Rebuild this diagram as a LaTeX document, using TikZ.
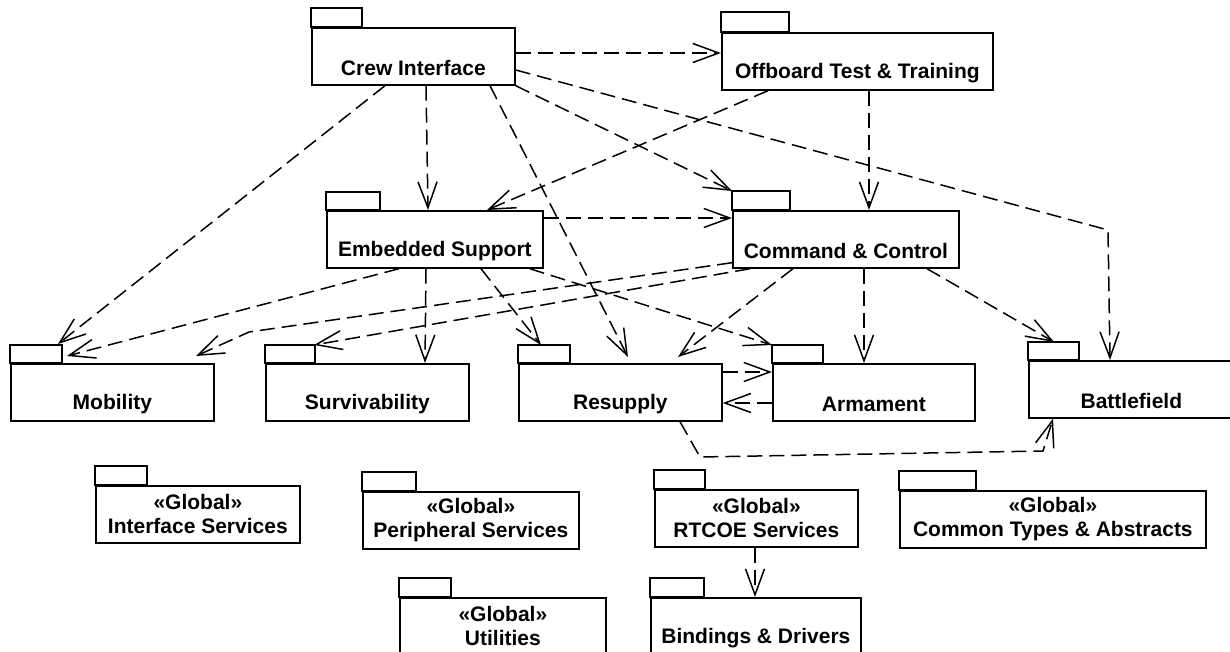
\documentclass[tikz,border=0pt]{standalone}
\usepackage{fontspec}
\setmainfont{Liberation Sans}
\usetikzlibrary{arrows.meta,calc}
\tikzset{
  pkg/.style={draw, line width=1.7pt, anchor=north west, minimum height=57pt,
    inner sep=0pt, align=center, font=\bfseries\fontsize{21}{24}\selectfont},
  tabbox/.style={draw, line width=1.7pt},
  dep/.style={draw, line width=1.5pt, dash pattern=on 15pt off 7pt,
    -{Straight Barb[length=26pt,width=19pt,line width=1.5pt]}}
}
\newcommand{\nost}{\phantom{«Global»}}
\begin{document}
\begin{tikzpicture}[x=1pt,y=-1pt]
\useasboundingbox (0,0) rectangle (1230,652);
% packages
\node[pkg, minimum width=203pt] (crew) at (311,27) {\nost\\Crew Interface};
\node[pkg, minimum width=271pt] (off) at (721,32) {\nost\\Offboard Test \& Training};
\node[pkg, minimum width=216pt] (emb) at (326,210) {\nost\\Embedded Support};
\node[pkg, minimum width=226pt] (cc) at (732,210) {\nost\\Command \& Control};
\node[pkg, minimum width=203pt] (mob) at (10,363) {\nost\\Mobility};
\node[pkg, minimum width=203pt] (surv) at (265,363) {\nost\\Survivability};
\node[pkg, minimum width=203pt] (res) at (518,363) {\nost\\Resupply};
\node[pkg, minimum width=202pt] (arm) at (772,363) {\nost\\Armament};
\node[pkg, minimum width=205pt] (bf) at (1028,360) {\nost\\Battlefield};
\node[pkg, minimum width=204pt] (ifs) at (95,485) {«Global»\\Interface Services};
\node[pkg, minimum width=216pt] (per) at (362,491) {«Global»\\Peripheral Services};
\node[pkg, minimum width=203pt] (rt) at (654,489) {«Global»\\RTCOE Services};
\node[pkg, minimum width=306pt] (com) at (899,490) {«Global»\\Common Types \& Abstracts};
\node[pkg, minimum width=206pt] (util) at (399,597) {«Global»\\Utilities};
\node[pkg, minimum width=210pt] (bind) at (650,597) {\nost\\Bindings \& Drivers};
% tabs
\draw[tabbox] (crew.north west) rectangle ++(51,-19);
\draw[tabbox] (off.north west) rectangle ++(68,-20);
\draw[tabbox] (emb.north west) rectangle ++(54,-18);
\draw[tabbox] (cc.north west) rectangle ++(58,-19);
\draw[tabbox] (mob.north west) rectangle ++(52,-18);
\draw[tabbox] (surv.north west) rectangle ++(50,-18);
\draw[tabbox] (res.north west) rectangle ++(52,-18);
\draw[tabbox] (arm.north west) rectangle ++(51,-18);
\draw[tabbox] (bf.north west) rectangle ++(51,-18);
\draw[tabbox] (ifs.north west) rectangle ++(52,-19);
\draw[tabbox] (per.north west) rectangle ++(54,-19);
\draw[tabbox] (rt.north west) rectangle ++(51,-19);
\draw[tabbox] (com.north west) rectangle ++(77,-19);
\draw[tabbox] (util.north west) rectangle ++(52,-19);
\draw[tabbox] (bind.north west) rectangle ++(54,-19);
% bend points
\coordinate (b1) at (1108,230);
\coordinate (b2) at (249,332);
\coordinate (b3) at (700,457);
\coordinate (b4) at (1043,451);
% dependencies
\draw[dep] ($(crew.north east)+(0,26)$) -- ($(off.north west)+(0,21)$);
\draw[dep] ($(crew.south west)+(115,0)$) -- ($(emb.north west)+(102,0)$);
\draw[dep] ($(crew.south west)+(74,0)$) -- ($(mob.north west)+(48,-19)$);
\draw[dep] ($(crew.south west)+(179,0)$) -- ($(res.north west)+(110,-6)$);
\draw[dep] (crew.south east) -- ($(cc.north west)+(0,-19)$);
\draw[dep] ($(crew.north east)+(0,43)$) -- (b1) -- ($(bf.north west)+(82,0)$);
\draw[dep] ($(off.south west)+(47,0)$) -- ($(emb.north west)+(161,0)$);
\draw[dep] ($(off.south west)+(148,0)$) -- ($(cc.north west)+(137,0)$);
\draw[dep] ($(emb.north east)+(0,8)$) -- ($(cc.north west)+(0,8)$);
\draw[dep] ($(emb.south west)+(73,0)$) -- ($(mob.north west)+(57,-7)$);
\draw[dep] ($(emb.south west)+(100,0)$) -- ($(surv.north west)+(160,0)$);
\draw[dep] ($(emb.south west)+(155,0)$) -- ($(res.north west)+(23,-18)$);
\draw[dep] ($(emb.south east)+(-14,0)$) -- ($(arm.north west)+(0,-18)$);
\draw[dep] ($(cc.south west)+(0,-6)$) -- (b2) -- ($(mob.north west)+(186,-7)$);
\draw[dep] ($(cc.south west)+(18,0)$) -- ($(surv.north west)+(49,-18)$);
\draw[dep] ($(cc.south west)+(61,0)$) -- ($(res.north west)+(160,-6)$);
\draw[dep] ($(cc.south west)+(132,0)$) -- ($(arm.north west)+(92,0)$);
\draw[dep] ($(cc.south west)+(195,0)$) -- ($(bf.north west)+(26,-18)$);
\draw[dep] ($(res.north east)+(0,9)$) -- ($(arm.north west)+(0,9)$);
\draw[dep] ($(arm.north west)+(0,40)$) -- ($(res.north east)+(0,40)$);
\draw[dep] ($(res.south west)+(162,0)$) -- (b3) -- (b4) -- ($(bf.south west)+(25,0)$);
\draw[dep] ($(rt.south west)+(101,0)$) -- ($(bind.north west)+(105,0)$);
\end{tikzpicture}
\end{document}
